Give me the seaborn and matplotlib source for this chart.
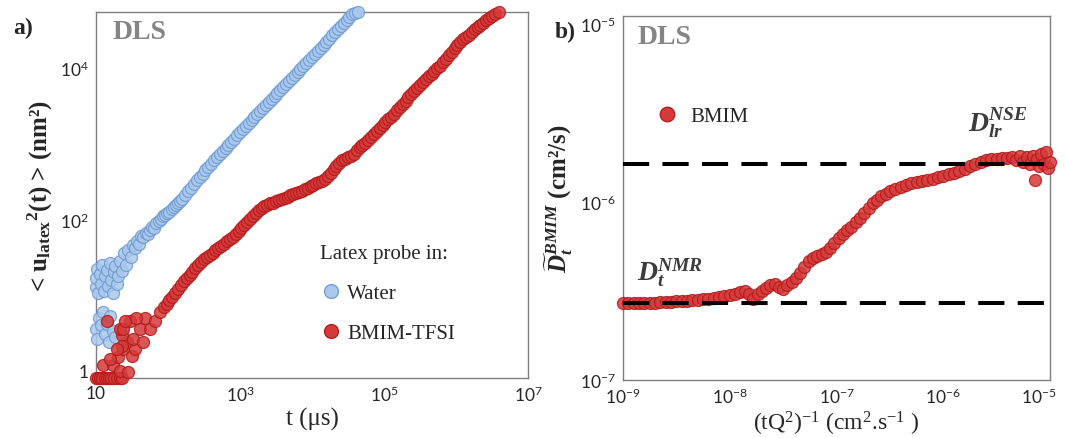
import numpy as np
import pandas as pd
import matplotlib
matplotlib.use("Agg")
import matplotlib.pyplot as plt
import seaborn as sns
from matplotlib.ticker import LogLocator, NullFormatter
from matplotlib.lines import Line2D
from matplotlib.transforms import ScaledTranslation

# ---------------- data (log10 values) ----------------
# Panel a: Water
water_log_t = [1.00, 1.00, 1.01, 1.03, 1.05, 1.07, 1.09, 1.11, 1.13, 1.15, 1.17, 1.19, 1.21, 1.23, 1.25, 1.27, 1.29,
               1.00, 1.02, 1.04, 1.07, 1.10, 1.12, 1.15, 1.18, 1.20, 1.23, 1.26,
               1.30, 1.33, 1.36, 1.39, 1.42, 1.45, 1.48, 1.51, 1.54, 1.57, 1.60, 1.63, 1.66, 1.69, 1.72, 1.75,
               1.78, 1.81, 1.84, 1.87, 1.90, 1.93, 1.96, 1.99, 2.02, 2.05, 2.08, 2.11, 2.14, 2.17, 2.20, 2.24,
               2.28, 2.32, 2.36, 2.40, 2.44, 2.48, 2.52, 2.56, 2.60, 2.64, 2.68, 2.72, 2.76, 2.80, 2.84, 2.88,
               2.92, 2.96, 3.00, 3.04, 3.08, 3.12, 3.16, 3.20, 3.24, 3.28, 3.32, 3.36, 3.40, 3.44, 3.48, 3.52,
               3.56, 3.60, 3.64, 3.68, 3.72, 3.76, 3.80, 3.84, 3.88, 3.92, 3.96, 4.00, 4.04, 4.08, 4.12, 4.16,
               4.20, 4.24, 4.28, 4.32, 4.36, 4.40, 4.44, 4.48, 4.52, 4.56, 4.60, 4.64]
water_log_msd = [1.10, 1.22, 1.35, 1.02, 1.28, 1.15, 1.40, 1.05, 1.25, 1.33, 1.12, 1.42, 1.20, 1.02, 1.30, 1.38, 1.15,
                 0.55, 0.42, 0.70, 0.60, 0.78, 0.48, 0.62, 0.38, 0.72, 0.52, 0.45,
                 1.25, 1.45, 1.32, 1.55, 1.40, 1.60, 1.50, 1.66, 1.62, 1.72, 1.68, 1.78, 1.76, 1.82, 1.80, 1.86,
                 1.90, 1.88, 1.95, 1.98, 2.00, 2.04, 2.06, 2.09, 2.10, 2.14, 2.16, 2.19, 2.22, 2.24, 2.27, 2.32,
                 2.37, 2.42, 2.47, 2.52, 2.56, 2.60, 2.65, 2.69, 2.73, 2.78, 2.82, 2.86, 2.90, 2.94, 2.98, 3.02,
                 3.06, 3.11, 3.15, 3.19, 3.23, 3.27, 3.31, 3.35, 3.39, 3.43, 3.47, 3.51, 3.55, 3.59, 3.63, 3.67,
                 3.71, 3.75, 3.79, 3.83, 3.87, 3.91, 3.95, 3.99, 4.03, 4.07, 4.11, 4.15, 4.19, 4.23, 4.27, 4.31,
                 4.35, 4.39, 4.43, 4.47, 4.51, 4.55, 4.59, 4.63, 4.67, 4.71, 4.73, 4.74]

# Panel a: BMIM-TFSI
tfsi_log_t = [1.00, 1.03, 1.06, 1.09, 1.12, 1.15, 1.18, 1.21, 1.25, 1.29, 1.33, 1.36,
              1.10, 1.24, 1.33, 1.31, 1.38, 1.45, 1.43, 1.36, 1.33, 1.50, 1.54, 1.52, 1.47, 1.61, 1.66,
              1.68, 1.15, 1.75, 1.82, 1.89, 1.38, 1.56, 1.40, 1.36, 1.29, 1.19,
              1.94, 1.98, 2.02, 2.06, 2.10, 2.14, 2.18, 2.22, 2.26, 2.30, 2.34, 2.38, 2.42, 2.46, 2.50,
              2.54, 2.58, 2.62, 2.66, 2.70, 2.74, 2.78, 2.82, 2.86, 2.90, 2.94, 2.98, 3.02, 3.06, 3.10,
              3.14, 3.18, 3.22, 3.26, 3.30, 3.34, 3.38, 3.42, 3.46, 3.50, 3.54, 3.58, 3.62, 3.66, 3.70,
              3.74, 3.78, 3.82, 3.86, 3.90, 3.94, 3.98, 4.02, 4.06, 4.10, 4.14, 4.18, 4.22, 4.26, 4.30,
              4.34, 4.38, 4.42, 4.46, 4.50, 4.54, 4.58, 4.62, 4.66, 4.70, 4.74, 4.78, 4.82, 4.86, 4.90,
              4.94, 4.98, 5.02, 5.06, 5.10, 5.14, 5.18, 5.22, 5.26, 5.30, 5.34, 5.38, 5.42, 5.46, 5.50,
              5.54, 5.58, 5.62, 5.66, 5.70, 5.74, 5.78, 5.82, 5.86, 5.90, 5.94, 5.98, 6.02, 6.06, 6.10,
              6.14, 6.18, 6.22, 6.26, 6.30, 6.34, 6.38, 6.42, 6.46, 6.50, 6.54, 6.59]
tfsi_log_msd = [-0.097, -0.097, -0.097, -0.097, -0.097, -0.097, -0.097, -0.097, -0.097, -0.097, -0.097, -0.097,
                0.07, 0.07, -0.01, 0.18, 0.29, -0.02, 0.38, 0.47, 0.55, 0.20, 0.29, 0.42, 0.66, 0.55, 0.38,
                0.69, 0.66, 0.55, 0.66, 0.78, 0.55, 0.69, 0.66, 0.33, 0.29, 0.16,
                0.84, 0.88, 0.93, 0.98, 1.03, 1.08, 1.13, 1.18, 1.22, 1.27, 1.31, 1.36, 1.40, 1.44, 1.47,
                1.50, 1.53, 1.56, 1.59, 1.62, 1.65, 1.68, 1.71, 1.74, 1.77, 1.80, 1.84, 1.88, 1.92, 1.96,
                2.00, 2.04, 2.08, 2.12, 2.15, 2.17, 2.19, 2.21, 2.22, 2.24, 2.25, 2.27, 2.28, 2.30, 2.32,
                2.33, 2.35, 2.36, 2.38, 2.40, 2.42, 2.44, 2.46, 2.48, 2.49, 2.51, 2.53, 2.57, 2.61, 2.66,
                2.71, 2.75, 2.78, 2.80, 2.82, 2.84, 2.87, 2.91, 2.95, 2.98, 3.01, 3.05, 3.09, 3.13, 3.17,
                3.21, 3.25, 3.28, 3.32, 3.35, 3.39, 3.44, 3.48, 3.53, 3.57, 3.62, 3.66, 3.70, 3.74, 3.78,
                3.82, 3.86, 3.89, 3.92, 3.96, 4.00, 4.03, 4.08, 4.12, 4.17, 4.21, 4.26, 4.30, 4.34, 4.38,
                4.41, 4.44, 4.48, 4.51, 4.54, 4.57, 4.60, 4.63, 4.66, 4.69, 4.71, 4.74]

# Panel b: BMIM
bmim_log_x = [-9.00, -8.95, -8.90, -8.85, -8.80, -8.75, -8.70, -8.65, -8.60, -8.55, -8.50, -8.45, -8.40, -8.35,
              -8.30, -8.25, -8.20, -8.15, -8.10, -8.05, -8.00, -7.95, -7.90, -7.86, -7.82, -7.78, -7.74, -7.70,
              -7.66, -7.62, -7.58, -7.54, -7.50, -7.46, -7.42, -7.38, -7.34, -7.30, -7.26, -7.22, -7.18, -7.14,
              -7.10, -7.06, -7.02, -6.98, -6.94, -6.90, -6.86, -6.82, -6.78, -6.74, -6.70, -6.66, -6.62, -6.58,
              -6.54, -6.50, -6.45, -6.40, -6.35, -6.30, -6.25, -6.20, -6.15, -6.10, -6.05, -6.00, -5.95, -5.90,
              -5.85, -5.80, -5.75, -5.70, -5.65, -5.60, -5.55, -5.50, -5.45, -5.40, -5.36, -5.32, -5.28, -5.25,
              -5.22, -5.19, -5.16, -5.14, -5.12, -5.10, -5.08, -5.06, -5.04, -5.02, -5.00]
bmim_log_d = [-6.570, -6.570, -6.569, -6.568, -6.568, -6.567, -6.566, -6.565, -6.563, -6.561, -6.559, -6.557,
              -6.555, -6.552, -6.549, -6.546, -6.543, -6.539, -6.535, -6.530, -6.525, -6.518, -6.508, -6.500,
              -6.520, -6.545, -6.520, -6.500, -6.485, -6.470, -6.462, -6.478, -6.490, -6.470, -6.450, -6.430,
              -6.400, -6.365, -6.335, -6.315, -6.305, -6.295, -6.283, -6.260, -6.230, -6.205, -6.180, -6.160,
              -6.140, -6.115, -6.090, -6.065, -6.035, -6.010, -5.990, -5.970, -5.955, -5.942, -5.928, -5.915,
              -5.905, -5.897, -5.890, -5.884, -5.877, -5.870, -5.862, -5.855, -5.847, -5.838, -5.828, -5.815,
              -5.802, -5.790, -5.778, -5.768, -5.762, -5.758, -5.756, -5.757, -5.750, -5.765, -5.745, -5.775,
              -5.752, -5.790, -5.745, -5.878, -5.760, -5.800, -5.735, -5.790, -5.720, -5.812, -5.780]

D_NMR = 2.7e-7
D_NSE = 1.63e-6

xticks_a = [1e1, 1e3, 1e5, 1e7]
xticklabels_a = ["10", r"$\mathsf{10^{3}}$", r"$\mathsf{10^{5}}$", r"$\mathsf{10^{7}}$"]
yticks_a = [1, 1e2, 1e4]
yticklabels_a = ["1", r"$\mathsf{10^{2}}$", r"$\mathsf{10^{4}}$"]
xticks_b = [1e-9, 1e-8, 1e-7, 1e-6, 1e-5]
xticklabels_b = [r"$\mathsf{10^{-9}}$", r"$\mathsf{10^{-8}}$", r"$\mathsf{10^{-7}}$", r"$\mathsf{10^{-6}}$", r"$\mathsf{10^{-5}}$"]
yticks_b = [1e-7, 1e-6, 1e-5]
yticklabels_b = [r"$\mathsf{10^{-7}}$", r"$\mathsf{10^{-6}}$", r"$\mathsf{10^{-5}}$"]

# ---------------- style ----------------
sns.set_style("white")
plt.rcParams["font.family"] = ["Liberation Serif", "DejaVu Serif"]
plt.rcParams["mathtext.fontset"] = "custom"
plt.rcParams["mathtext.rm"] = "Liberation Serif"
plt.rcParams["mathtext.it"] = "Liberation Serif:italic"
plt.rcParams["mathtext.bf"] = "Liberation Serif:bold"
plt.rcParams["mathtext.bfit"] = "Liberation Serif:bold:italic"
plt.rcParams["mathtext.sf"] = "Lato"

BLUE_FACE, BLUE_EDGE = "#aac8ec", "#6d9ad2"
RED_FACE, RED_EDGE = "#d43a3a", "#b51818"
SPINE = "#7f7f7f"

water = pd.DataFrame({"t": np.power(10.0, water_log_t), "msd": np.power(10.0, water_log_msd)})
tfsi = pd.DataFrame({"t": np.power(10.0, tfsi_log_t), "msd": np.power(10.0, tfsi_log_msd)})
bmim = pd.DataFrame({"x": np.power(10.0, bmim_log_x), "d": np.power(10.0, bmim_log_d)})

fig = plt.figure(figsize=(10.65, 4.39), dpi=100)
ax1 = fig.add_axes([0.0901, 0.1367, 0.4057, 0.8337])
ax2 = fig.add_axes([0.5850, 0.1321, 0.4009, 0.8292])

MS = 75
sns.scatterplot(data=water, x="t", y="msd", ax=ax1, s=MS, color=BLUE_FACE, edgecolor=BLUE_EDGE,
                linewidth=0.9, alpha=0.85, clip_on=False, zorder=3, legend=False)
sns.scatterplot(data=tfsi, x="t", y="msd", ax=ax1, s=MS, color=RED_FACE, edgecolor=RED_EDGE,
                linewidth=0.9, alpha=0.85, clip_on=False, zorder=3, legend=False)
sns.scatterplot(data=bmim, x="x", y="d", ax=ax2, s=MS, color=RED_FACE, edgecolor=RED_EDGE,
                linewidth=0.9, alpha=0.85, clip_on=False, zorder=3, legend=False)

for yv in (D_NMR, D_NSE):
    ax2.axhline(yv, color="black", lw=2.9, ls=(0, (6.5, 3.3)), zorder=4)

for ax in (ax1, ax2):
    ax.set_xscale("log")
    ax.set_yscale("log")
    for sp in ax.spines.values():
        sp.set_color(SPINE)
        sp.set_linewidth(1.0)
    ax.tick_params(which="both", direction="in", color=SPINE, top=False, right=False, pad=5)
    ax.tick_params(which="major", length=6, width=1.0)
    ax.tick_params(which="minor", length=3.5, width=0.8)
    ax.xaxis.set_minor_locator(LogLocator(base=10, subs=np.arange(2, 10), numticks=100))
    ax.yaxis.set_minor_locator(LogLocator(base=10, subs=np.arange(2, 10), numticks=100))
    ax.xaxis.set_minor_formatter(NullFormatter())
    ax.yaxis.set_minor_formatter(NullFormatter())

TFS = 12.5
ax1.set_xlim(1e1, 1e7)
ax1.set_ylim(0.8, 5.5e4)
ax1.set_xticks(xticks_a, xticklabels_a, fontfamily="Lato", fontsize=TFS)
ax1.set_yticks(yticks_a, yticklabels_a, fontfamily="Lato", fontsize=TFS)
ax2.set_xlim(1e-9, 1e-5)
ax2.set_ylim(1e-7, 1.1e-5)
ax2.set_xticks(xticks_b, xticklabels_b, fontfamily="Lato", fontsize=TFS)
ax2.set_yticks(yticks_b, yticklabels_b, fontfamily="Lato", fontsize=TFS)
last = ax2.get_xticklabels()[-1]
last.set_transform(last.get_transform() + ScaledTranslation(-8 / 72, 0, fig.dpi_scale_trans))

ax1.set_xlabel("t (\u03bcs)", fontsize=18, labelpad=2)
ax1.set_ylabel(r"< $\mathbf{u_{latex}}^{\mathbf{2}}$(t) > (nm²)", fontsize=18, fontweight="bold", labelpad=4)
ax2.set_xlabel(r"(tQ$^{2}$)$^{-1}$ (cm$^{2}$.s$^{-1}$ )", fontsize=17, labelpad=2)
ax2.set_ylabel(r"$\widetilde{\mathbfit{D}}_{\mathbfit{t}}^{\mathbfit{BMIM}}$ (cm²/s)", fontsize=18,
               fontweight="bold", labelpad=4)

ax1.text(0.039, 0.948, "DLS", transform=ax1.transAxes, fontsize=20, fontweight="bold",
         color="#858585", ha="left", va="center")
ax2.text(0.035, 0.944, "DLS", transform=ax2.transAxes, fontsize=20, fontweight="bold",
         color="#858585", ha="left", va="center")
fig.text(0.012, 0.936, "a)", fontsize=17, fontweight="bold", ha="left", va="center")
fig.text(0.521, 0.927, "b)", fontsize=17, fontweight="bold", ha="left", va="center")

ax2.text(0.033, 0.277, r"$\mathbfit{D_{t}^{NMR}}$", transform=ax2.transAxes, fontsize=20,
         color="#3c3c3c", ha="left", va="baseline")
ax2.text(0.808, 0.684, r"$\mathbfit{D_{lr}^{NSE}}$", transform=ax2.transAxes, fontsize=20,
         color="#3c3c3c", ha="left", va="baseline")

h_water = Line2D([], [], ls="none", marker="o", ms=10, mfc=BLUE_FACE, mec=BLUE_EDGE, mew=0.9)
h_tfsi = Line2D([], [], ls="none", marker="o", ms=10, mfc=RED_FACE, mec=RED_EDGE, mew=0.9)
ax1.legend([h_water, h_tfsi], ["Water", "BMIM-TFSI"], title="Latex probe in:",
           loc="upper left", bbox_to_anchor=(0.50, 0.39), frameon=False, fontsize=15,
           title_fontsize=15, alignment="left", handletextpad=0.3, handlelength=1.0,
           labelspacing=1.0, borderaxespad=0.0)

h_bmim = Line2D([], [], ls="none", marker="o", ms=10.5, mfc=RED_FACE, mec=RED_EDGE, mew=0.9)
ax2.legend([h_bmim], ["BMIM"], loc="center left", bbox_to_anchor=(0.06, 0.725), frameon=False,
           fontsize=15, handletextpad=0.6, handlelength=1.0, borderaxespad=0.0)

fig.savefig("out.png", dpi=100)
